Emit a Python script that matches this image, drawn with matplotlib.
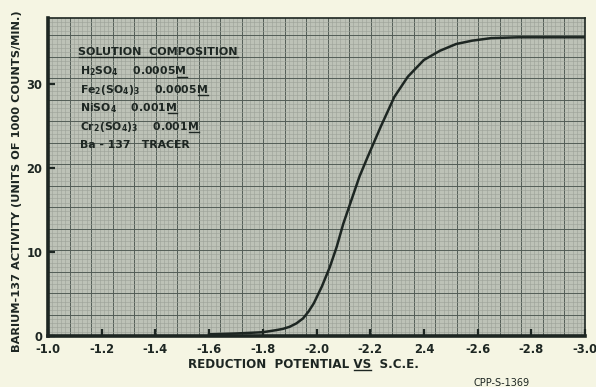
import matplotlib.pyplot as plt
import numpy as np
from matplotlib.lines import Line2D
from matplotlib.transforms import IdentityTransform

# values
potential = [-1.60, -1.70, -1.80, -1.85, -1.875, -1.90, -1.925, -1.95, -1.97, -1.99,
             -2.02, -2.05, -2.075, -2.10, -2.13, -2.16, -2.19, -2.24, -2.29, -2.34,
             -2.40, -2.46, -2.52, -2.58, -2.65, -2.75, -2.90, -3.00]
activity = [0.2, 0.3, 0.45, 0.7, 0.85, 1.1, 1.5, 2.1, 2.9, 3.9,
            5.9, 8.25, 10.6, 13.4, 16.2, 19.0, 21.3, 25.0, 28.5, 30.9,
            32.9, 34.0, 34.8, 35.2, 35.5, 35.6, 35.6, 35.6]

xticks = [-1.0, -1.2, -1.4, -1.6, -1.8, -2.0, -2.2, -2.4, -2.6, -2.8, -3.0]
xticklabels = ['-1.0', '-1.2', '-1.4', '-1.6', '-1.8', '-2.0', '-2.2', '2.4', '-2.6', '-2.8', '-3.0']
yticks = [0, 10, 20, 30]

# (text, part before the underlined bit) for each composition line
composition = [
    (r'H$_2$SO$_4$    0.0005M', r'H$_2$SO$_4$    0.0005'),
    (r'Fe$_2$(SO$_4$)$_3$    0.0005M', r'Fe$_2$(SO$_4$)$_3$    0.0005'),
    (r'NiSO$_4$    0.001M', r'NiSO$_4$    0.001'),
    (r'Cr$_2$(SO$_4$)$_3$    0.001M', r'Cr$_2$(SO$_4$)$_3$    0.001'),
    ('Ba - 137   TRACER', None),
]

paper = '#f5f5e3'
ink = '#1d2622'

plt.rcParams['mathtext.default'] = 'bf'
fig = plt.figure(figsize=(5.96, 3.87), dpi=100, facecolor=paper)
pos = [48 / 596, 51 / 387, 537 / 596, 318 / 387]

# graph paper background, drawn in pixel units
bg = fig.add_axes(pos, zorder=0)
bg.set_facecolor('#bdc2b7')
bg.set_xlim(0, 537)
bg.set_ylim(0, 318)
for i, p in enumerate(np.arange(0, 537, 4.3)):
    major = i % 5 == 0
    bg.axvline(p, color='#535d57' if major else '#9ba197', lw=0.7 if major else 0.4)
for i, p in enumerate(np.arange(0, 318, 4.3)):
    major = i % 5 == 0
    bg.axhline(p, color='#535d57' if major else '#9ba197', lw=0.7 if major else 0.4)
bg.set_xticks([])
bg.set_yticks([])
for s in bg.spines.values():
    s.set_visible(False)

ax = fig.add_axes(pos, zorder=1)
ax.patch.set_alpha(0)
ax.plot(potential, activity, color=ink, lw=1.8)
ax.set_xlim(-1.0, -3.0)
ax.set_ylim(0, 37.9)

ax.set_xticks(xticks)
ax.set_xticklabels(xticklabels)
ax.set_yticks(yticks)
ax.tick_params(direction='in', length=5, width=1.6, color=ink, labelcolor=ink,
               labelsize=8.3)
ax.tick_params(axis='x', pad=5)
ax.tick_params(axis='y', pad=4)
for lab in ax.get_xticklabels() + ax.get_yticklabels():
    lab.set_fontweight('bold')

ax.spines['left'].set_linewidth(2.6)
ax.spines['bottom'].set_linewidth(2.6)
ax.spines['top'].set_linewidth(1.2)
ax.spines['right'].set_linewidth(1.2)
for s in ax.spines.values():
    s.set_color(ink)

renderer = fig.canvas.get_renderer()


def underlined(x, y, full, start, end, transform, **kw):
    # draws the text and a line under the part between prefixes start and end
    t = fig.text(x, y, full, transform=transform, va='baseline', color=ink,
                 fontweight='bold', **kw)
    x0 = transform.transform((x, y))[0]
    if start:
        h = fig.text(x, y, start, transform=transform, va='baseline',
                     fontweight='bold', **kw)
        x0 = h.get_window_extent(renderer).x1
        h.remove()
    x1 = t.get_window_extent(renderer).x1
    if end:
        h = fig.text(x, y, end, transform=transform, va='baseline',
                     fontweight='bold', **kw)
        x1 = h.get_window_extent(renderer).x1
        h.remove()
    yb = transform.transform((x, y))[1] - 2
    fig.add_artist(Line2D([x0 + 1, x1], [yb, yb], transform=IdentityTransform(),
                          color=ink, lw=1.0))
    return t


underlined(0.056, 0.885, 'SOLUTION  COMPOSITION', '', None, ax.transAxes, fontsize=8)
for i, (line, head) in enumerate(composition):
    y = 0.822 - i * 0.058
    if head is None:
        ax.text(0.06, y, line, transform=ax.transAxes, fontsize=7.8,
                fontweight='bold', color=ink, va='baseline')
    else:
        underlined(0.06, y, line, head, None, ax.transAxes, fontsize=7.8)

underlined(188 / 596, (387 - 368) / 387, 'REDUCTION  POTENTIAL VS  S.C.E.',
           'REDUCTION  POTENTIAL ', 'REDUCTION  POTENTIAL VS', fig.transFigure,
           fontsize=8.6)

fig.text(17 / 596, (387 - 181) / 387, 'BARIUM-137 ACTIVITY (UNITS OF 1000 COUNTS/MIN.)',
         rotation=90, ha='center', va='center', fontsize=8.2, fontweight='bold',
         color=ink)

fig.text(473 / 596, (387 - 383) / 387, 'CPP-S-1369', fontsize=7, color=ink,
         ha='left', va='center')

plt.savefig('out.png', dpi=100, facecolor=paper)
